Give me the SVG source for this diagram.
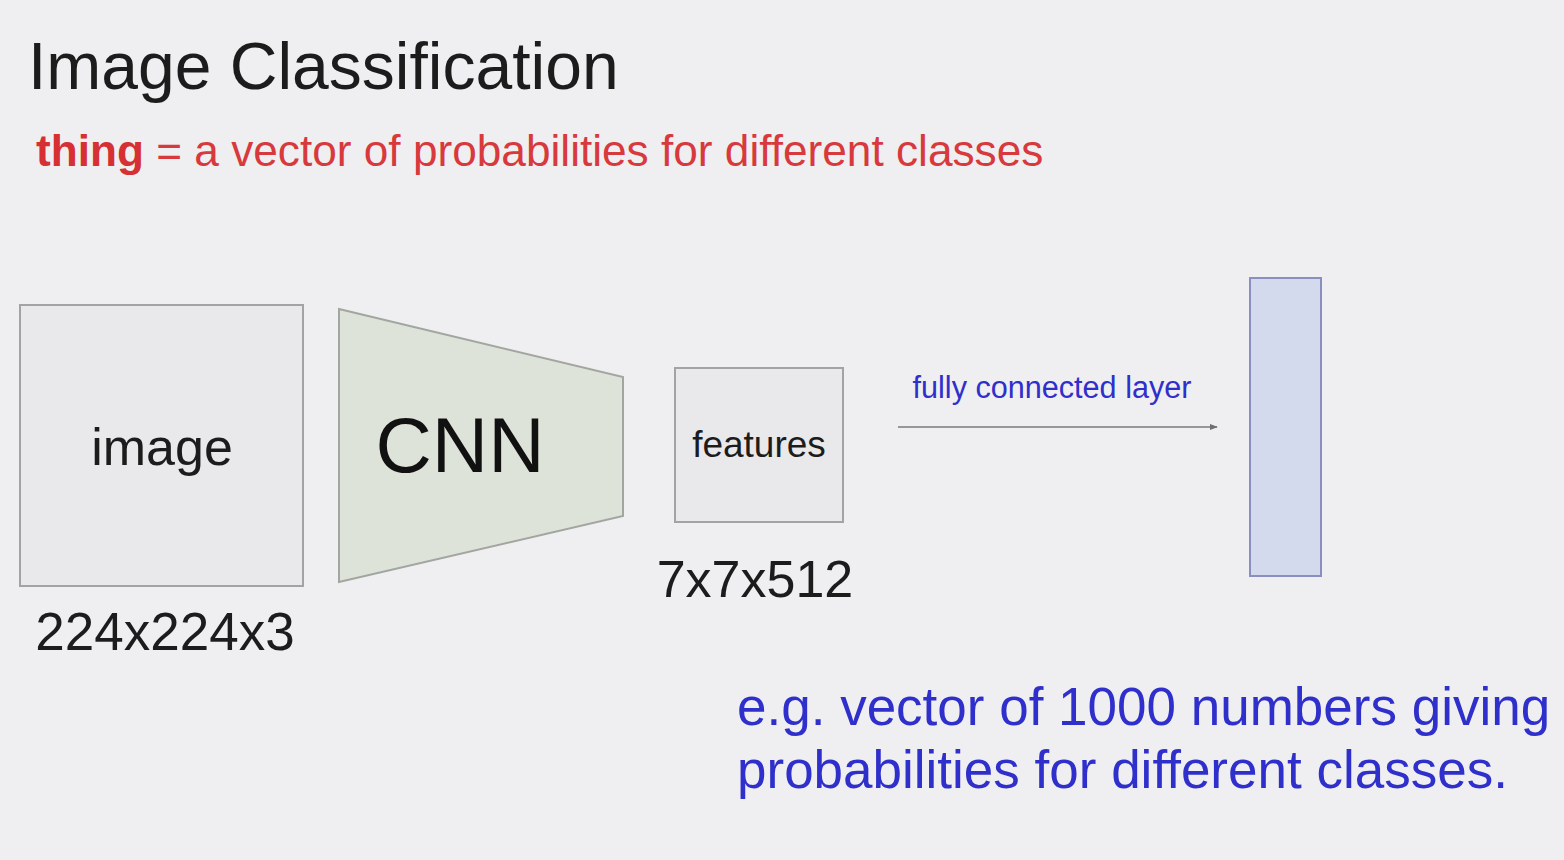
<svg xmlns="http://www.w3.org/2000/svg" width="1564" height="860" viewBox="0 0 1564 860">
  <defs>
    <style>
      text { font-family: "Liberation Sans", Arial, sans-serif; }
      .dark { fill: #1c1c1c; }
      .blue { fill: #2f2fcc; }
      .red { fill: #d8393c; }
      .box { fill: #e9e8ea; stroke: #a3a3a3; stroke-width: 2; }
    </style>
    <marker id="arrow" viewBox="0 0 10 10" refX="9" refY="5" markerWidth="8" markerHeight="8" markerUnits="userSpaceOnUse" orient="auto">
      <path d="M0,1 L10,5 L0,9 Z" fill="#6f6f6f"/>
    </marker>
  </defs>
  <rect width="1564" height="860" fill="#efeef0"/>

  <text x="28" y="89" font-size="66" class="dark">Image Classification</text>
  <text x="36" y="166" font-size="44.2" class="red"><tspan font-weight="bold" fill="#d63033">thing</tspan> = a vector of probabilities for different classes</text>

  <g id="image">
    <rect class="box" x="20" y="305" width="283" height="281"/>
    <text x="162" y="465" font-size="52" text-anchor="middle" class="dark">image</text>
    <text x="165" y="650" font-size="53" text-anchor="middle" class="dark">224x224x3</text>
  </g>

  <g id="cnn">
    <polygon points="339,309 623,377 623,516 339,582" fill="#dde3d8" stroke="#a2a6a1" stroke-width="2"/>
    <text x="460" y="472" font-size="78" text-anchor="middle" fill="#111">CNN</text>
  </g>

  <g id="features">
    <rect class="box" x="675" y="368" width="168" height="154"/>
    <text x="759" y="457" font-size="37" text-anchor="middle" class="dark">features</text>
    <text x="755" y="597" font-size="52" text-anchor="middle" class="dark">7x7x512</text>
  </g>

  <g id="output">
    <rect x="1250" y="278" width="71" height="298" fill="#d3daee" stroke="#8a8ec0" stroke-width="2"/>
  </g>

  <g id="connectors">
    <line x1="898" y1="427" x2="1217" y2="427" stroke="#7a7a7a" stroke-width="1.5" marker-end="url(#arrow)"/>
    <text x="1052" y="398" font-size="30.6" text-anchor="middle" class="blue">fully connected layer</text>
  </g>

  <g id="note">
    <text x="737" y="725" font-size="53" class="blue">e.g. vector of 1000 numbers giving</text>
    <text x="737" y="788" font-size="53" class="blue">probabilities for different classes.</text>
  </g>
</svg>
